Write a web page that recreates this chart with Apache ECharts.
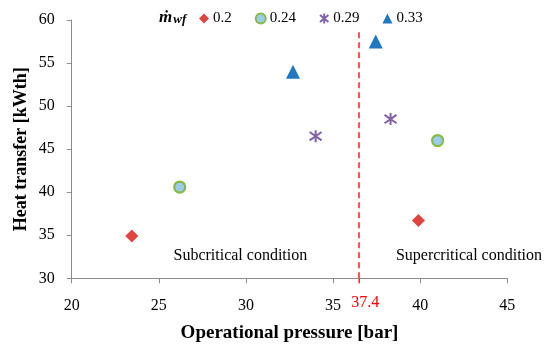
<!DOCTYPE html>
<html>
<head>
<meta charset="utf-8">
<script src="https://cdn.jsdelivr.net/npm/echarts@6/dist/echarts.min.js"></script>
<style>html,body{margin:0;padding:0;background:#fff}#c{width:550px;height:348px}</style>
</head>
<body>
<div id="c"></div>
<script>
const seriesNames = ['0.2', '0.24', '0.29', '0.33'];
const s02 = [[23.45, 34.9], [39.9, 36.7]];
const s024 = [[26.2, 40.6], [41.0, 46.0]];
const s029 = [[34.0, 46.5], [38.3, 48.5]];
const s033 = [[32.7, 54.0], [37.45, 57.5]];
const criticalX = 36.5;
const criticalLabel = '37.4';
const xTicks = { min: 20, max: 45, interval: 5 };
const yTicks = { min: 30, max: 60, interval: 5 };
const notes = [{ text: 'Subcritical condition', at: [29.68, 32.57] }, { text: 'Supercritical condition', at: [42.8, 32.57] }];

const FONT = 'Liberation Serif';
const chart = echarts.init(document.getElementById('c'));
const asterisk = 'path://M5,0 L5,10 M0.8,1.5 L9.2,8.5 M0.8,8.5 L9.2,1.5';

chart.setOption({
  animation: false,
  backgroundColor: '#fff',
  textStyle: { fontFamily: FONT },
  title: {
    left: 154, top: 0,
    text: '{m|ṁ}{s|wf}',
    textStyle: {
      rich: {
        m: { fontFamily: FONT, fontStyle: 'italic', fontSize: 17, color: '#000', verticalAlign: 'bottom' },
        s: { fontFamily: FONT, fontStyle: 'italic', fontSize: 13, color: '#000', padding: [8, 0, 0, 1] }
      }
    }
  },
  legend: {
    left: 194, top: 6,
    itemWidth: 10, itemHeight: 10, itemGap: 23,
    textStyle: { fontFamily: FONT, fontSize: 15, color: '#000', padding: [0, 0, 0, -1] },
    data: seriesNames
  },
  grid: { left: 71.7, right: 42.7, top: 20, bottom: 69.7, containLabel: false },
  xAxis: {
    type: 'value', min: xTicks.min, max: xTicks.max, interval: xTicks.interval,
    name: 'Operational pressure [bar]', nameLocation: 'middle', nameGap: 45, nameMoveOverlap: false,
    nameTextStyle: { fontFamily: FONT, fontWeight: 'bold', fontSize: 19, color: '#000' },
    axisLine: { show: true, lineStyle: { color: '#8c8c8c', width: 1 } },
    axisTick: { show: true, inside: false, length: 5, lineStyle: { color: '#8c8c8c' } },
    axisLabel: { fontFamily: FONT, fontSize: 16, color: '#000', margin: 19 },
    splitLine: { show: false }
  },
  yAxis: {
    type: 'value', min: yTicks.min, max: yTicks.max, interval: yTicks.interval,
    name: 'Heat transfer [kWth]', nameLocation: 'middle', nameGap: 41, nameRotate: 90, nameMoveOverlap: false,
    nameTextStyle: { fontFamily: FONT, fontWeight: 'bold', fontSize: 18, color: '#000' },
    axisLine: { show: true, lineStyle: { color: '#8c8c8c', width: 1 } },
    axisTick: { show: true, inside: false, length: 5, lineStyle: { color: '#8c8c8c' } },
    axisLabel: { fontFamily: FONT, fontSize: 16, color: '#000', margin: 17 },
    splitLine: { show: false }
  },
  series: [
    {
      name: seriesNames[0], type: 'scatter', symbol: 'diamond', symbolSize: 13,
      itemStyle: { color: '#e0443f', opacity: 1 }, data: s02,
      markPoint: {
        silent: true, symbol: 'circle', symbolSize: 0,
        label: { show: true, fontFamily: FONT, fontSize: 16, color: '#000', formatter: p => p.name },
        data: notes.map(n => ({ name: n.text, coord: n.at }))
      }
    },
    {
      name: seriesNames[1], type: 'scatter', symbol: 'circle', symbolSize: 11,
      itemStyle: { color: '#9cccec', borderColor: '#86bb45', borderWidth: 2.2, opacity: 1 }, data: s024
    },
    {
      name: seriesNames[2], type: 'scatter', symbol: asterisk, symbolSize: 12,
      itemStyle: { color: '#8162aa', borderColor: '#8162aa', borderWidth: 2, opacity: 1 }, data: s029
    },
    {
      name: seriesNames[3], type: 'scatter', symbol: 'triangle', symbolSize: 14,
      itemStyle: { color: '#1f78c1', opacity: 1 }, data: s033
    },
    {
      name: 'critical', type: 'scatter', data: [], silent: true,
      markLine: {
        silent: true, symbol: ['none', 'none'], animation: false,
        lineStyle: { color: '#ff1a1a', type: [6, 4], width: 1.5 },
        label: { show: true, position: 'start', formatter: criticalLabel, color: '#ff0000', fontFamily: FONT, fontSize: 16, distance: 16, padding: [0, 0, 0, 12] },
        data: [[{ coord: [criticalX, 30] }, { coord: [criticalX, 58.6] }]]
      }
    }
  ]
});

// short red tick continuing the critical line just below the x axis
const p = chart.convertToPixel({ gridIndex: 0 }, [criticalX, yTicks.min]);
chart.setOption({
  graphic: [{
    type: 'line', silent: true,
    shape: { x1: p[0], y1: p[1], x2: p[0], y2: p[1] + 5 },
    style: { stroke: '#ff1a1a', lineWidth: 1.5 }
  }]
});
</script>
</body>
</html>
